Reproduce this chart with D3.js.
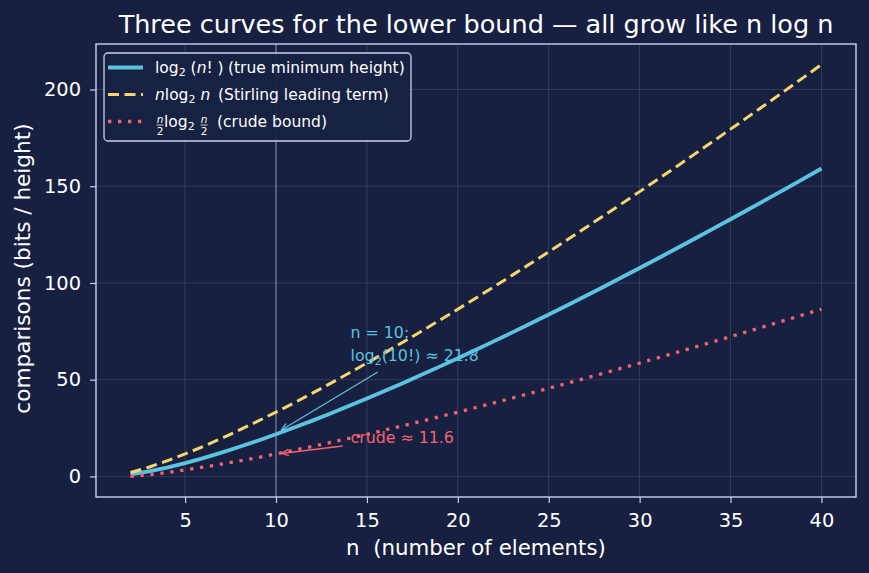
<!DOCTYPE html>
<html>
<head>
<meta charset="utf-8">
<script src="https://cdn.jsdelivr.net/npm/d3@7"></script>
<style>
  body { margin: 0; background: #172041; }
  svg { display: block; font-family: "DejaVu Sans", sans-serif; }
  text { white-space: pre; }
</style>
</head>
<body>
<div class="content"></div>
<script>
const WIDTH = 869;
const HEIGHT = 573;
const MARGIN = {left: 96, right: 13, top: 44, bottom: 76};

// n values and the three curves
const nValues = [2,3,4,5,6,7,8,9,10,11,12,13,14,15,16,17,18,19,20,21,22,23,24,25,26,27,28,29,30,31,32,33,34,35,36,37,38,39,40];
const log2Factorial = [1,2.585,4.585,6.907,9.492,12.299,15.299,18.469,21.791,25.25,28.835,32.536,36.343,40.25,44.25,48.338,52.508,56.755,61.077,65.47,69.929,74.453,79.038,83.682,88.382,93.137,97.944,102.802,107.709,112.663,117.663,122.708,127.795,132.924,138.094,143.304,148.552,153.837,159.159];
const stirling = [2,4.755,8,11.61,15.51,19.65,24,28.53,33.22,38.05,43.02,48.11,53.3,58.6,64,69.49,75.06,80.71,86.44,92.24,98.11,104.04,110.04,116.1,122.21,128.38,134.61,140.88,147.21,153.58,160,166.47,172.97,179.52,186.12,192.75,199.42,206.13,212.88];
const crude = [0,0.877,2,3.305,4.755,6.326,8,9.765,11.61,13.53,15.51,17.55,19.65,21.8,24,26.24,28.53,30.86,33.22,35.62,38.05,40.52,43.02,45.55,48.11,50.69,53.3,55.94,58.6,61.29,64,66.73,69.49,72.26,75.06,77.87,80.71,83.57,86.44];

const xTicks = [5,10,15,20,25,30,35,40];
const yTicks = [0,50,100,150,200];

const CYAN = "#5bc3de";
const YELLOW = "#f6d66c";
const RED = "#f2646f";
const series = [
  {name: "fact", values: log2Factorial, color: CYAN, width: 3.8, dash: null},
  {name: "stirling", values: stirling, color: YELLOW, width: 3, dash: "11,5.5"},
  {name: "crude", values: crude, color: RED, width: 3.3, dash: "3.3,6.7"}
];

const FRAME = "#c9d1ea";
const GRID = "rgba(200,210,235,0.15)";

const svg = d3.select(".content").append("svg").attr("width", WIDTH).attr("height", HEIGHT);
svg.append("rect").attr("width", WIDTH).attr("height", HEIGHT).attr("fill", "#172041");

const x = d3.scaleLinear().domain([0.1, 41.9]).range([MARGIN.left, WIDTH - MARGIN.right]);
const y = d3.scaleLinear().domain([-10.644, 223.524]).range([HEIGHT - MARGIN.bottom, MARGIN.top]);

// grid
const grid = svg.append("g");
grid.selectAll(".gx").data(xTicks).join("line")
    .attr("x1", d => x(d)).attr("x2", d => x(d))
    .attr("y1", MARGIN.top).attr("y2", HEIGHT - MARGIN.bottom)
    .attr("stroke", GRID).attr("stroke-width", 1);
grid.selectAll(".gy").data(yTicks).join("line")
    .attr("y1", d => y(d)).attr("y2", d => y(d))
    .attr("x1", MARGIN.left).attr("x2", WIDTH - MARGIN.right)
    .attr("stroke", GRID).attr("stroke-width", 1);

// vertical marker at n = 10
svg.append("line")
    .attr("x1", x(10)).attr("x2", x(10))
    .attr("y1", MARGIN.top).attr("y2", HEIGHT - MARGIN.bottom)
    .attr("stroke", "rgba(205,212,235,0.42)").attr("stroke-width", 1.4);

// axes
const xAxis = d3.axisBottom(x).tickValues(xTicks).tickSize(6).tickPadding(10);
const yAxis = d3.axisLeft(y).tickValues(yTicks).tickSize(6).tickPadding(9);
const gx = svg.append("g").attr("transform", "translate(0," + (HEIGHT - MARGIN.bottom) + ")").call(xAxis);
const gy = svg.append("g").attr("transform", "translate(" + MARGIN.left + ",0)").call(yAxis);
[gx, gy].forEach(g => {
  g.select(".domain").remove();
  g.selectAll("line").attr("stroke", FRAME).attr("stroke-width", 1.2);
  g.selectAll("text").attr("fill", "#ffffff").style("font-size", "19.4px").style("font-family", "DejaVu Sans");
});

// curves
const line = d3.line().x((d, i) => x(nValues[i])).y(d => y(d));
svg.append("g").selectAll("path").data(series).join("path")
    .attr("d", d => line(d.values))
    .attr("fill", "none")
    .attr("stroke", d => d.color)
    .attr("stroke-width", d => d.width)
    .attr("stroke-dasharray", d => d.dash);

// frame
svg.append("rect")
    .attr("x", MARGIN.left).attr("y", MARGIN.top)
    .attr("width", WIDTH - MARGIN.left - MARGIN.right)
    .attr("height", HEIGHT - MARGIN.top - MARGIN.bottom)
    .attr("fill", "none").attr("stroke", FRAME).attr("stroke-width", 1.4);

// annotations
const defs = svg.append("defs");
function arrowHead(id, color){
  defs.append("marker").attr("id", id).attr("viewBox", "0 0 10 10")
      .attr("refX", 9).attr("refY", 5).attr("markerWidth", 9).attr("markerHeight", 9)
      .attr("markerUnits", "userSpaceOnUse").attr("orient", "auto")
      .append("path").attr("d", "M1,1.5 L9,5 L1,8.5").attr("fill", "none").attr("stroke", color).attr("stroke-width", 1.4);
}
arrowHead("arrowCyan", CYAN);
arrowHead("arrowRed", RED);

svg.append("line")
    .attr("x1", x(15.6)).attr("y1", y(54))
    .attr("x2", x(10.3)).attr("y2", y(24))
    .attr("stroke", CYAN).attr("stroke-width", 1.2).attr("marker-end", "url(#arrowCyan)");
svg.append("line")
    .attr("x1", x(13.66)).attr("y1", y(15.7))
    .attr("x2", x(10.3)).attr("y2", y(11.9))
    .attr("stroke", RED).attr("stroke-width", 1.5).attr("marker-end", "url(#arrowRed)");

const ann1 = svg.append("text").attr("fill", CYAN).style("font-size", "15.8px");
ann1.append("tspan").attr("x", x(14.1)).attr("y", y(71.6)).text("n = 10:");
const l2 = ann1.append("tspan").attr("x", x(14.1)).attr("y", y(59.4));
l2.append("tspan").text("log");
l2.append("tspan").attr("dy", 4).style("font-size", "11px").text("2");
l2.append("tspan").attr("dy", -4).text("(10!) ≈ 21.8");

svg.append("text").attr("x", x(14.1)).attr("y", y(17.3)).attr("fill", RED)
    .style("font-size", "15.8px").text("crude ≈ 11.6");

// title and axis labels
svg.append("text").attr("x", (MARGIN.left + WIDTH - MARGIN.right) / 2).attr("y", 33)
    .attr("text-anchor", "middle").attr("fill", "#ffffff").style("font-size", "25.5px")
    .text("Three curves for the lower bound — all grow like n log n");
svg.append("text").attr("x", (MARGIN.left + WIDTH - MARGIN.right) / 2).attr("y", 555)
    .attr("text-anchor", "middle").attr("fill", "#ffffff").style("font-size", "21.3px")
    .text("n  (number of elements)");
svg.append("text").attr("transform", "translate(30," + ((MARGIN.top + HEIGHT - MARGIN.bottom) / 2) + ") rotate(-90)")
    .attr("text-anchor", "middle").attr("fill", "#ffffff").style("font-size", "21.6px")
    .attr("x", 2).text("comparisons (bits / height)");

// legend
const legend = svg.append("g").attr("transform", "translate(104,53)");
legend.append("rect").attr("width", 307).attr("height", 88).attr("rx", 4)
    .attr("fill", "#172143").attr("stroke", FRAME).attr("stroke-width", 1.3).attr("fill-opacity", 0.9);
const rows = legend.selectAll("g.row").data(series).join("g").attr("class", "row")
    .attr("transform", (d, i) => "translate(0," + (14.5 + i * 27) + ")");
rows.append("line").attr("x1", 4).attr("x2", 39).attr("y1", 0).attr("y2", 0)
    .attr("stroke", d => d.color).attr("stroke-width", d => d.width)
    .attr("stroke-dasharray", d => d.dash);

const lt = legend.append("g").attr("fill", "#ffffff").style("font-size", "15.5px");
// row 1
const t1 = lt.append("text").attr("x", 51).attr("y", 20);
t1.append("tspan").text("log");
t1.append("tspan").attr("dy", 3).style("font-size", "11px").text("2");
t1.append("tspan").attr("dy", -3).text(" (");
t1.append("tspan").style("font-style", "italic").text("n");
t1.append("tspan").text("! )");
lt.append("text").attr("x", 124).attr("y", 20).text("(true minimum height)");
// row 2
const t2 = lt.append("text").attr("x", 51).attr("y", 47);
t2.append("tspan").style("font-style", "italic").text("n");
t2.append("tspan").text("log");
t2.append("tspan").attr("dy", 3).style("font-size", "11px").text("2");
t2.append("tspan").attr("dy", -3).style("font-style", "italic").text(" n");
lt.append("text").attr("x", 114).attr("y", 47).text("(Stirling leading term)");
// row 3: fractions n/2
function frac(fx, fy){
  const g = lt.append("g").attr("transform", "translate(" + fx + "," + fy + ")").style("font-size", "10.5px");
  g.append("text").attr("x", 0).attr("y", -4).attr("text-anchor", "middle").style("font-style", "italic").text("n");
  g.append("line").attr("x1", -3.5).attr("x2", 3.5).attr("y1", -2).attr("y2", -2).attr("stroke", "#ffffff").attr("stroke-width", 0.8);
  g.append("text").attr("x", 0).attr("y", 8).attr("text-anchor", "middle").text("2");
}
frac(56, 74);
const t3 = lt.append("text").attr("x", 60).attr("y", 74);
t3.append("tspan").text("log");
t3.append("tspan").attr("dy", 3).style("font-size", "11px").text("2");
frac(100, 74);
lt.append("text").attr("x", 113).attr("y", 74).text("(crude bound)");
</script>
</body>
</html>
